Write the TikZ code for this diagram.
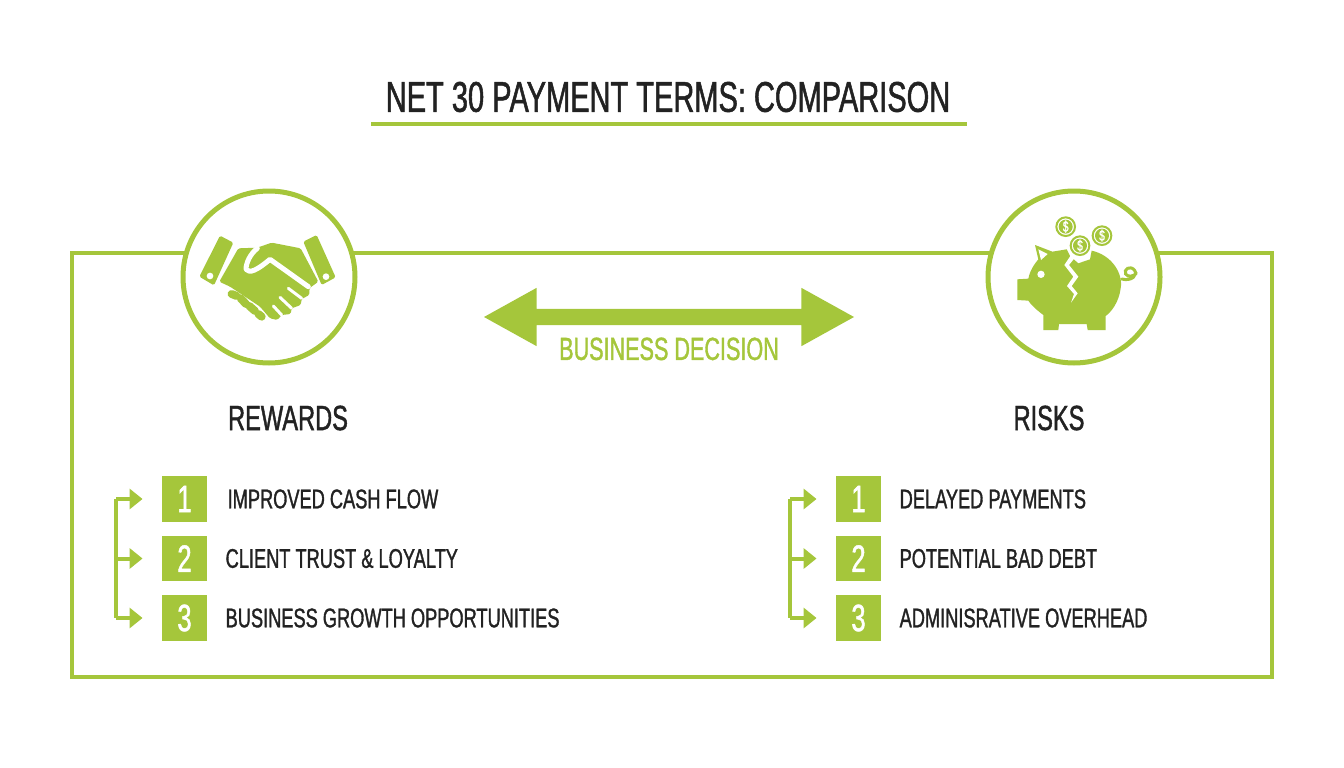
\documentclass[tikz,border=0pt]{standalone}
\usepackage{fontspec}
\setmainfont[FakeStretch=0.675,FakeBold=1.2]{Liberation Sans}
\usetikzlibrary{positioning, arrows.meta, shapes.arrows}
\definecolor{leaf}{HTML}{A5C63B}
\definecolor{ink}{HTML}{222222}
\tikzset{
        >={Triangle[length=13pt,width=20pt]},
        node distance=59.5pt,
        numbox/.style={fill=leaf, text=white, minimum size=45.5pt, inner sep=0pt, font=\fontsize{38}{38}\selectfont},
        itemtext/.style={text=ink, inner sep=0pt, anchor=west, font=\fontsize{27}{27}\selectfont},
        headtext/.style={text=ink, inner sep=0pt, font=\fontsize{35}{35}\selectfont},
        badge/.style={circle, draw=leaf, line width=5pt, fill=white, minimum size=172pt, inner sep=0pt},
        branch/.style={draw=leaf, line width=4pt, ->, shorten >=19pt},
        gap/.style={draw=white, line width=5pt, line cap=round, line join=round}
        }
\begin{document}
\begin{tikzpicture}[x=1pt,y=-1pt]
        \useasboundingbox (0,0) rectangle (1344,768);
        \node[text=ink, inner sep=0pt, font=\fontsize{43}{43}\selectfont](title) at (668,97){NET 30 PAYMENT TERMS: COMPARISON};
        \coordinate (ul) at (371,124);
        \coordinate (ur) at (967,124);
        \draw[leaf, line width=4.5pt] (ul) -- (ur);
        % frame behind the two badges
        \draw[leaf, line width=4.5pt] (72,253) rectangle (1272,677);
        \node[badge](hands) at (269,277){};
        \node[badge](pig) at (1074,277){};
        % handshake, in crop pixels
        \begin{scope}[shift={(170,180)},x=1pt/3,y=-1pt/3]
          \fill[leaf, rounded corners=1.5pt] (150,167) -- (190,188) -- (132,316) -- (88,290) -- cycle;
          \fill[leaf, rounded corners=1.5pt] (400,185) -- (440,165) -- (497,292) -- (455,315) -- cycle;
          \fill[white] (120,288) circle (10) (468,290) circle (10);
          \fill[leaf, rounded corners=1.5pt] (148,305) -- (205,205) -- (262,203) -- (305,188) -- (392,205) -- (445,305) -- (418,325)
              -- (418,345) -- (395,357) -- (392,375) -- (365,385) -- (362,402) -- (335,405) -- (322,420) -- (300,415) -- (270,380) -- (180,320) -- cycle;
          \draw[gap] (262,205) .. controls (240,222) and (228,250) .. (228,268) .. controls (238,282) and (262,270) .. (300,238) -- (415,320);
          \draw[gap, line width=3pt] (355,325) -- (395,355) (330,352) -- (365,385) (310,378) -- (335,405);
          \draw[leaf, line width=8pt, line cap=round] (185,342) -- (200,348) (212,355) -- (228,372) (238,378) -- (255,393) (265,402) -- (275,410);
        \end{scope}
        % piggy bank, in crop pixels
        \begin{scope}[shift={(975,180)},x=1pt/3,y=-1pt/3]
          \fill[leaf] (127,298) -- (160,296) .. controls (165,270) and (180,250) .. (190,238) -- (180,195) -- (232,215) -- (275,208) -- (285,228) -- (310,250)
              -- (345,238) -- (350,212) .. controls (410,225) and (445,280) .. (437,325) .. controls (432,365) and (410,395) .. (392,408)
              -- (392,450) -- (338,450) -- (335,432) -- (252,432) -- (250,450) -- (205,450) -- (205,405)
              .. controls (185,390) and (168,375) .. (160,362) -- (127,360) -- cycle;
          \fill[white] (290,222) -- (268,255) -- (295,290) -- (276,318) -- (297,342) -- (288,368) -- (308,340) -- (290,318) -- (310,290) -- (282,255) -- (302,230) -- cycle;
          \fill[white] (198,283) circle (11);
          \fill[white] (198,240) -- (190,208) -- (218,222) -- cycle;
          \draw[leaf, line width=3pt, line cap=round] (440,297) .. controls (470,305) and (490,285) .. (478,270) .. controls (465,255) and (445,268) .. (452,282) .. controls (458,292) and (475,290) .. (484,280);
          \foreach \cx/\cy in {272/140, 315/197, 381/167}{
            \draw[leaf, line width=2pt, fill=white] (\cx,\cy) circle (28);
            \fill[leaf] (\cx,\cy) circle (21);
            \node[text=white, inner sep=0pt, font=\fontsize{15}{15}\selectfont] at (\cx,\cy) {\$};
          }
        \end{scope}
        \node[double arrow, fill=leaf, inner xsep=0pt, inner ysep=8pt, minimum height=370pt, double arrow head extend=21pt, double arrow tip angle=58](both) at (669,317){};
        \node[text=leaf, inner sep=0pt, font=\fontsize{32}{32}\selectfont, below=12pt of both](dec){BUSINESS DECISION};
        \node[headtext](rew) at (288,418){REWARDS};
        \node[headtext](ris) at (1049,418){RISKS};
        % rewards list
        \node[numbox](r1) at (184.5,499){1};
        \node[numbox, below of=r1](r2){2};
        \node[numbox, below of=r2](r3){3};
        \node[itemtext, right=20pt of r1](rt1){IMPROVED CASH FLOW};
        \node[itemtext, right=18pt of r2](rt2){CLIENT TRUST \& LOYALTY};
        \node[itemtext, right=18pt of r3](rt3){BUSINESS GROWTH OPPORTUNITIES};
        \coordinate (rb1) at (116,499);
        \coordinate (rb2) at (116,558.5);
        \coordinate (rb3) at (116,618);
        \draw[branch] (rb1) -- (r1);
        \draw[branch] (rb2) -- (r2);
        \draw[branch] (rb3) -- (r3);
        \draw[leaf, line width=4pt, line cap=square] (rb1) -- (rb3);
        % risks list
        \node[numbox](k1) at (858.5,499){1};
        \node[numbox, below of=k1](k2){2};
        \node[numbox, below of=k2](k3){3};
        \node[itemtext, right=18pt of k1](kt1){DELAYED PAYMENTS};
        \node[itemtext, right=18pt of k2](kt2){POTENTIAL BAD DEBT};
        \node[itemtext, right=18pt of k3](kt3){ADMINISRATIVE OVERHEAD};
        \coordinate (kb1) at (790,499);
        \coordinate (kb2) at (790,558.5);
        \coordinate (kb3) at (790,618);
        \draw[branch] (kb1) -- (k1);
        \draw[branch] (kb2) -- (k2);
        \draw[branch] (kb3) -- (k3);
        \draw[leaf, line width=4pt, line cap=square] (kb1) -- (kb3);
\end{tikzpicture}
\end{document}
